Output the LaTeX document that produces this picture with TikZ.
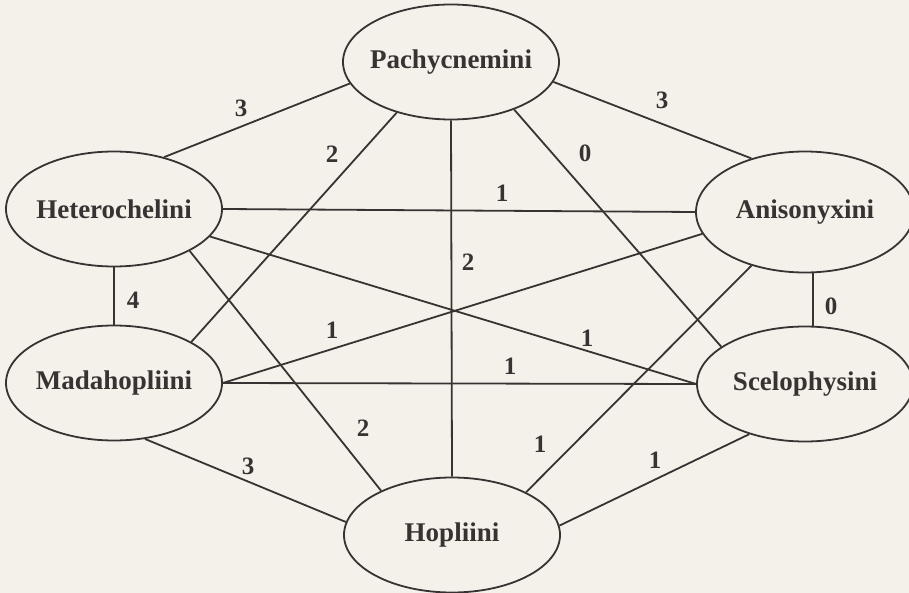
\documentclass[tikz,border=0pt]{standalone}
\usepackage{fontspec}
\setmainfont{Liberation Serif}
\usetikzlibrary{shapes.geometric}
\definecolor{ink}{HTML}{383232}
\definecolor{paper}{HTML}{F4F1EA}

\begin{document}
\begin{tikzpicture}[x=1pt, y=-1pt,
    tribe/.style={ellipse, draw=ink, line width=1.8pt, minimum width=216pt, minimum height=115pt,
      inner xsep=-30pt, inner ysep=0pt, font=\fontsize{27}{32}\selectfont\bfseries, text=ink},
    link/.style={draw=ink, line width=1.8pt},
    weight/.style={font=\fontsize{25}{30}\selectfont\bfseries, text=ink, inner sep=0pt}]
                % Paper
                \fill[paper] (0,0) rectangle (909,593);
                \useasboundingbox (0,0) rectangle (909,593);
                % Tribes
                \node[tribe] (pach) at (451,62) {Pachycnemini};
                \node[tribe] (het) at (114,209) {Heterochelini};
                \node[tribe, minimum width=218pt, minimum height=121pt] (aniso) at (805,212) {Anisonyxini};
                \node[tribe] (mada) at (114,383) {Madahopliini};
                \node[tribe] (scelo) at (805,384) {Scelophysini};
                \node[tribe] (hop) at (452,535) {Hopliini};
                % Links from Pachycnemini
                \draw[link] (pach.192.6) -- (het.46.7);
                \draw[link] (pach.223.4) -- (mada.28.3);
                \draw[link] (pach.south) -- (hop.north);
                \draw[link] (pach.-37.7) -- (scelo.156.4);
                \draw[link] (pach.-11.6) -- (aniso.135);
                % Links from Heterochelini
                \draw[link] (het.east) -- (aniso.west);
                \draw[link] (het.south) -- (mada.north);
                \draw[link] (het.-16.3) -- (scelo.west);
                \draw[link] (het.-29.9) -- (hop.148.4);
                % Links from Madahopliini
                \draw[link] (mada.east) -- (aniso.192.7);
                \draw[link] (mada.east) -- (scelo.west);
                \draw[link] (mada.-61.5) -- (hop.173.6);
                % Links to Hopliini
                \draw[link] (aniso.225) -- (hop.30.6);
                \draw[link] (scelo.222.8) -- (hop.5.3);
                \draw[link] ([xshift=8pt]aniso.south) -- ([xshift=8pt]scelo.north);
                % Weights
                \node[weight] (w1) at (241,108) {3};
                \node[weight] (w2) at (332,154) {2};
                \node[weight] (w3) at (662,100) {3};
                \node[weight] (w4) at (585,153) {0};
                \node[weight] (w5) at (502,193) {1};
                \node[weight] (w6) at (468,262) {2};
                \node[weight] (w7) at (133,300) {4};
                \node[weight] (w8) at (332,330) {1};
                \node[weight] (w9) at (587,338) {1};
                \node[weight] (w10) at (510,366) {1};
                \node[weight] (w11) at (363,428) {2};
                \node[weight] (w12) at (248,466) {3};
                \node[weight] (w13) at (540,444) {1};
                \node[weight] (w14) at (655,460) {1};
                \node[weight] (w15) at (831,306) {0};
            \end{tikzpicture}
\end{document}
